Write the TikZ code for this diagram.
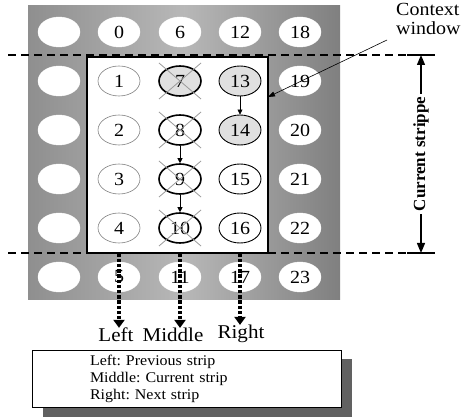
\documentclass[tikz,border=0pt]{standalone}
\usepackage{fontspec}
\setmainfont{Liberation Serif}[FakeStretch=1.08]
\newfontfamily\uprightserif{Liberation Serif}
\usetikzlibrary{shapes.geometric,arrows.meta,shadows}
\frenchspacing

\tikzset{
  cell/.style={ellipse,minimum width=42pt,minimum height=30pt,inner sep=0pt,font=\fontsize{18.5}{18.5}\selectfont},
  plain/.style={cell,fill=white,draw=white},
  prev/.style={cell,draw=black!50,line width=.6pt,fill=white},
  cur/.style={cell,draw=black,line width=1.6pt,fill=white},
  next/.style={cell,draw=black,line width=.9pt,fill=white},
  seen/.style={fill=black!12},
  ctxbox/.style={draw,line width=1.2pt,fill=white,inner sep=0pt,minimum width=181pt,minimum height=196pt},
  cross/.style={black!40,line width=.8pt},
  cut/.style={line width=1.4pt,dash pattern=on 8pt off 5pt},
  hop/.style={-{Triangle[length=5pt,width=5pt]},line width=.7pt},
  pick/.style={-{Triangle[length=8pt,width=11pt]},line width=3.6pt,dash pattern=on 3.4pt off 1.8pt},
  span/.style={-{Triangle[length=10pt,width=8pt]},line width=1.4pt},
  lbl/.style={font=\fontsize{19.5}{19.5}\selectfont,inner sep=0pt}
}

\begin{document}
\begin{tikzpicture}[x=1pt,y=-1pt]
  \useasboundingbox (0,0) rectangle (464,417);
  \shade [left color=black!44,right color=black!50,middle color=black!28] (28,6) rectangle (340,300);

  % frame strips outside the window
  \foreach \r in {0,...,5}
    \node [plain] (e\r) at (59,32+49*\r) {};
  \foreach \n/\x in {0/119,6/180,12/240}
    \node [plain] (n\n) at (\x,32) {\n};
  \foreach \n/\x in {5/119,11/180,17/240}
    \node [plain] (n\n) at (\x,277) {\n};
  \foreach \n in {18,...,23}
    \node [plain] (n\n) at (300,{32+49*(\n-18)}) {\n};

  \node [ctxbox] (win) at (177.5,155) {};

  \node [prev] (n1) at (119,81) {1};
  \node [prev] (n2) at (119,130) {2};
  \node [prev] (n3) at (119,179) {3};
  \node [prev] (n4) at (119,228) {4};
  \node [cur,seen] (n7) at (180,81) {7};
  \node [cur] (n8) at (180,130) {8};
  \node [cur] (n9) at (180,179) {9};
  \node [cur] (n10) at (180,228) {10};
  \node [next,seen] (n13) at (240,81) {13};
  \node [next,seen] (n14) at (240,130) {14};
  \node [next] (n15) at (240,179) {15};
  \node [next] (n16) at (240,228) {16};

  \foreach \n in {7,...,10}
    \draw [cross] (n\n.center) ++(-21,-18) -- ++(42,36) ++(0,-36) -- ++(-42,36);

  \foreach \from/\to in {n13/n14,n8/n9,n9/n10}
    \draw [hop] (\from) -- (\to);

  \draw [cut] (8,55) -- (435,55);
  \draw [cut] (8,253) -- (435,253);

  % strip labels
  \node [lbl] (lft) at (116,335) {Left};
  \node [lbl] (mid) at (173,335) {Middle};
  \node [lbl] (rgt) at (241,334) {Right};
  \draw [pick] (win.south -| n5) -- (n5 |- lft.north);
  \draw [pick] (win.south -| n11) -- (n11 |- mid.north);
  \draw [pick] (win.south -| n17) -- (n17 |- rgt.north);

  % context window
  \node [lbl,font=\fontsize{18.5}{19.5}\selectfont,anchor=north west,align=left] (ctx) at (396,3) {Context\\window};
  \coordinate (ctxtail) at (387,40);
  \coordinate (ctxhead) at (268,97);
  \draw [-{Triangle[length=7pt,width=5pt]},line width=.6pt] (ctxtail) -- (ctxhead);

  % current stripe
  \draw [line width=1.4pt] (407,55) -- (435,55);
  \draw [line width=1.4pt] (407,253) -- (435,253);
  \node [rotate=90,font=\uprightserif\fontsize{17}{17}\selectfont\bfseries,inner sep=3pt] (cs) at (421,154) {Current strippe};
  \coordinate (cstop) at (421,55);
  \coordinate (csbot) at (421,253);
  \draw [span] (cs.east) -- (cstop);
  \draw [span] (cs.west) -- (csbot);

  % legend
  \node [draw,fill=white,line width=1pt,align=left,text width=193pt,inner xsep=58pt,minimum height=57pt,
         font=\fontsize{14.8}{17}\selectfont,
         drop shadow={shadow xshift=11pt,shadow yshift=-9pt,fill=black!62,opacity=1}]
    (key) at (186.5,379) {Left: Previous strip\\Middle: Current strip\\Right: Next strip};
\end{tikzpicture}
\end{document}
